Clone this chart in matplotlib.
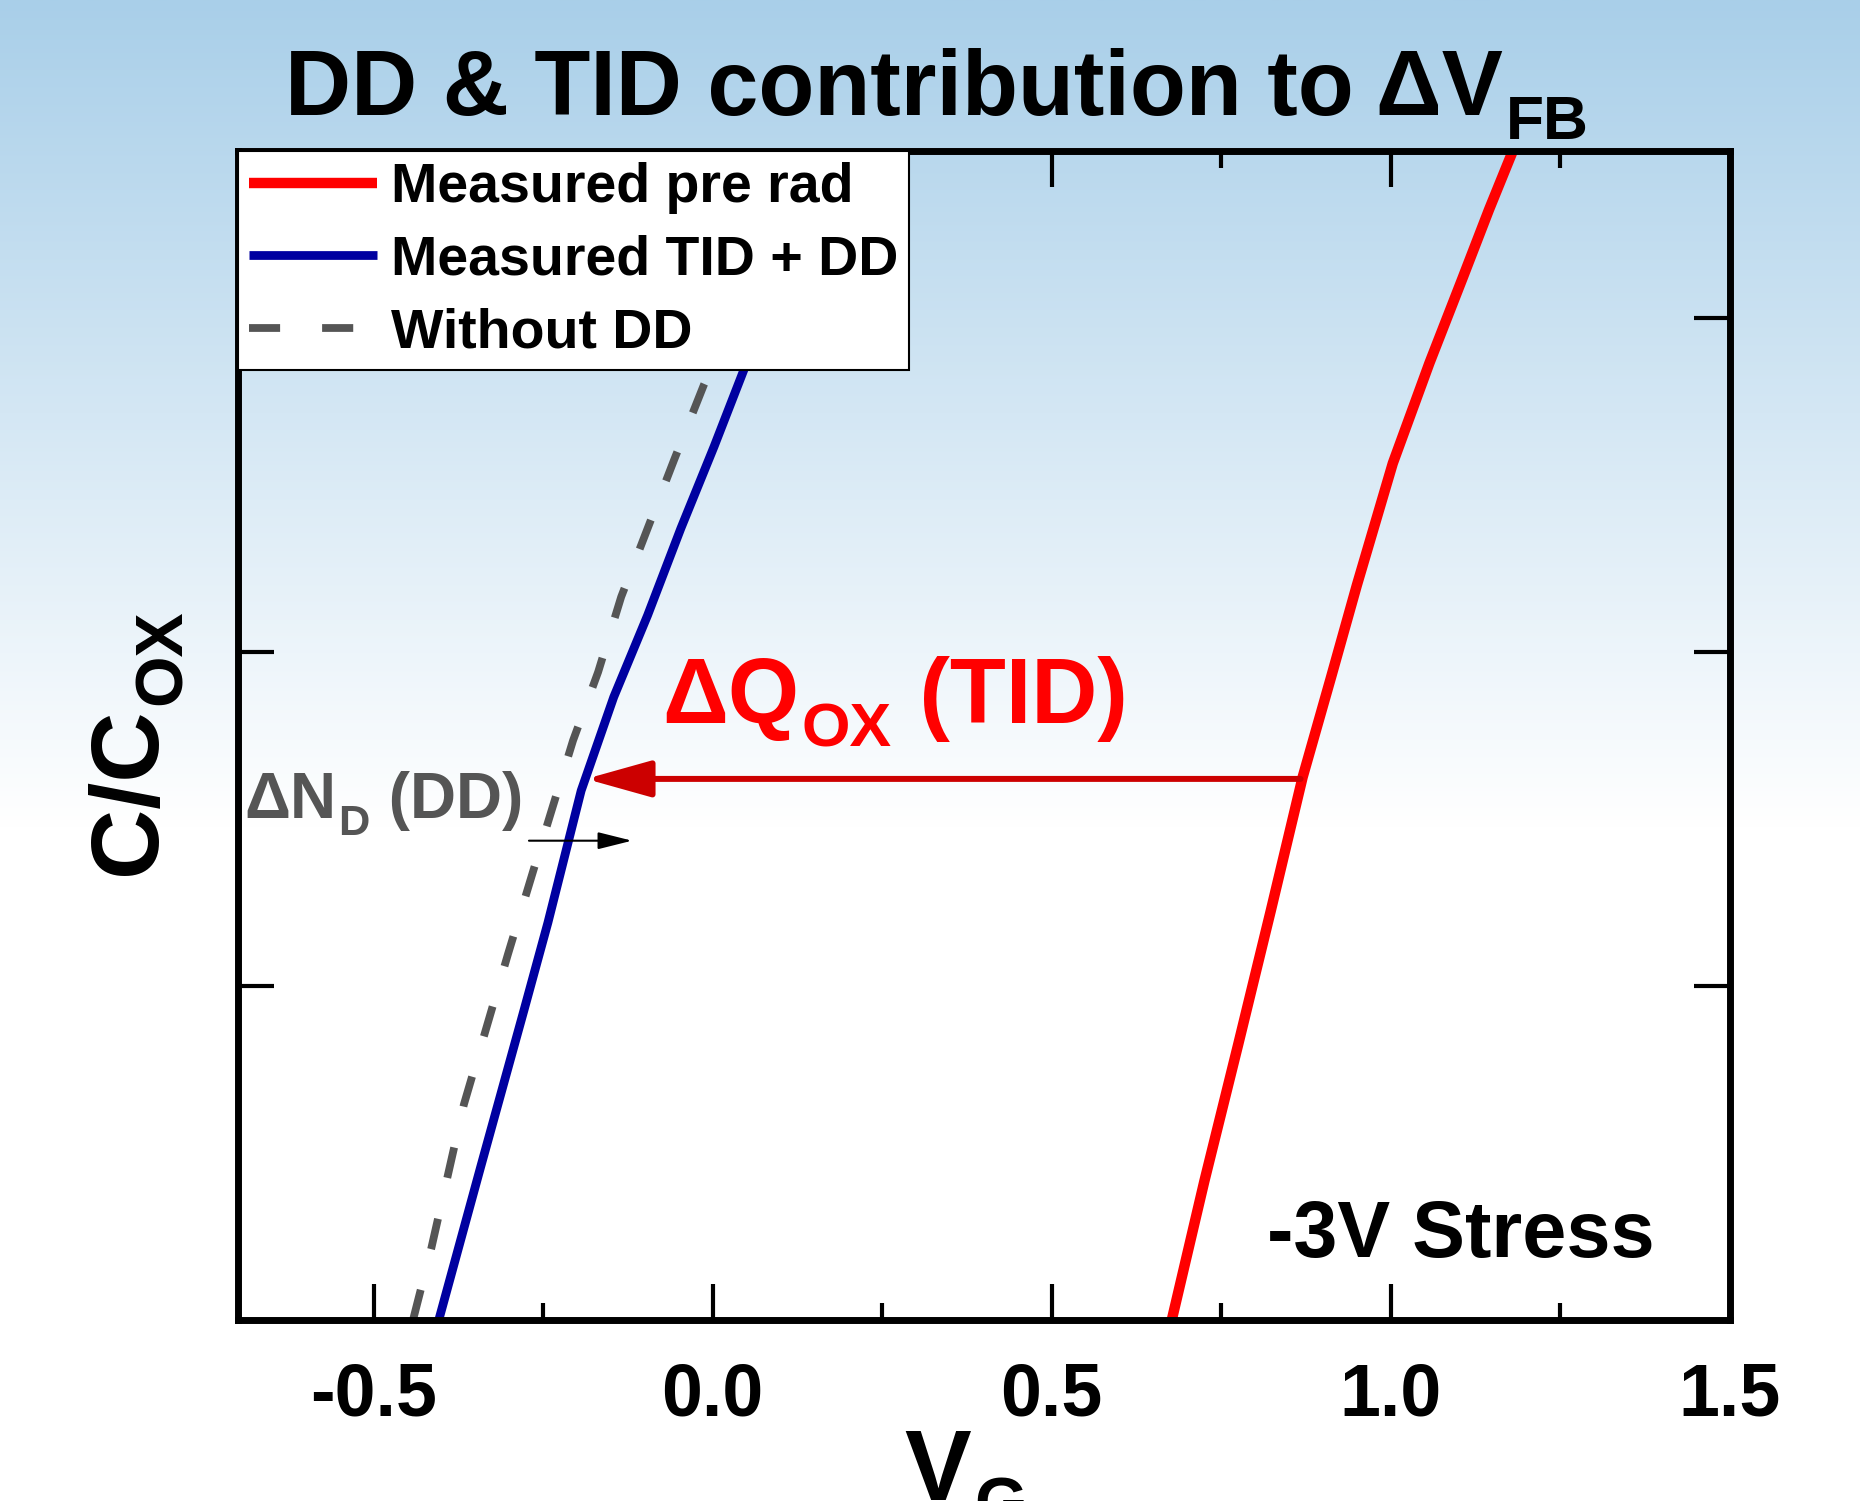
import numpy as np
import matplotlib
matplotlib.use("Agg")
import matplotlib.pyplot as plt
from matplotlib.transforms import IdentityTransform

plt.rcParams['font.family'] = ['Liberation Sans', 'DejaVu Sans']
plt.rcParams['font.weight'] = 'bold'
plt.rcParams['axes.unicode_minus'] = False

# C-V curves (V_G, C/Cox)
vg_pre = [0.677, 0.725, 0.775, 0.823, 0.870, 0.912, 0.950, 1.003, 1.057, 1.106, 1.145, 1.180]
c_pre = [0.0, 0.083, 0.165, 0.245, 0.325, 0.385, 0.440, 0.513, 0.573, 0.624, 0.665, 0.700]

vg_tid_dd = [-0.404, -0.342, -0.278, -0.243, -0.194, -0.146, -0.096, -0.047, 0.002, 0.046, 0.10, 0.16, 0.21]
c_tid_dd = [0.0, 0.092, 0.186, 0.238, 0.317, 0.373, 0.422, 0.474, 0.523, 0.569, 0.620, 0.670, 0.700]

vg_no_dd = [-0.442, -0.415, -0.367, -0.302, -0.243, -0.206, -0.169, -0.135, -0.096, -0.057, -0.013, 0.03, 0.09, 0.15]
c_no_dd = [0.0, 0.043, 0.129, 0.219, 0.298, 0.347, 0.388, 0.433, 0.474, 0.515, 0.560, 0.600, 0.650, 0.700]

# arrows
tid_arrow_y = 0.324
tid_arrow_x = [0.867, -0.187]
dd_arrow_y = 0.287
dd_arrow_x = [-0.271, -0.119]

xticks = [-0.5, 0.0, 0.5, 1.0, 1.5]
xtick_labels = ['-0.5', '0.0', '0.5', '1.0', '1.5']

fig = plt.figure(figsize=(18.6, 15.01), dpi=100)
renderer = fig.canvas.get_renderer()


def rich_text(x, y, parts, size, color='black', rotation=0, transform=None):
    # text with real lowered subscripts, parts = [(string, is_sub), ...]
    if transform is None:
        transform = fig.transFigure
    px, py = transform.transform((x, y))
    pos = 0.0
    for s, is_sub in parts:
        fs = size * 0.68 if is_sub else size
        drop = 0.26 * size * fig.dpi / 72 if is_sub else 0.0
        if rotation == 0:
            tx, ty = px + pos, py - drop
        else:
            tx, ty = px + drop, py + pos
        t = fig.text(tx, ty, s, transform=IdentityTransform(), fontsize=fs, fontweight='bold',
                     color=color, rotation=rotation, rotation_mode='anchor',
                     ha='left', va='baseline')
        bb = t.get_window_extent(renderer)
        pos += bb.width if rotation == 0 else bb.height
        pos += 0.03 * fs * fig.dpi / 72


# light blue to white background
bg = fig.add_axes([0, 0, 1, 1], zorder=-10)
t = np.linspace(0, 1, 600)
fade = np.clip(t / 0.55, 0, 1)
top = np.array([169, 207, 233]) / 255.0
grad = top[None, :] * (1 - fade[:, None]) + fade[:, None]
bg.imshow(grad[:, None, :], aspect='auto', extent=[0, 1, 0, 1], origin='upper')
bg.axis('off')

ax = fig.add_axes([0.128, 0.1206, 0.802, 0.7788])
ax.set_facecolor('none')

ax.plot(vg_pre, c_pre, color='#ff0000', lw=7.5, label='Measured pre rad', solid_capstyle='butt')
ax.plot(vg_tid_dd, c_tid_dd, color='#0000a0', lw=6.3, label='Measured TID + DD', solid_capstyle='butt')
ax.plot(vg_no_dd, c_no_dd, color='#555555', lw=5.6, ls=(0, (4, 5.4)), label='Without DD',
        dash_capstyle='butt')

ax.annotate('', xy=(tid_arrow_x[1], tid_arrow_y), xytext=(tid_arrow_x[0], tid_arrow_y),
            arrowprops=dict(arrowstyle='-|>,head_length=1.0,head_width=0.28', color='#cc0000',
                            lw=4.3, mutation_scale=40, shrinkA=0, shrinkB=0), zorder=4)
ax.annotate('', xy=(dd_arrow_x[1], dd_arrow_y), xytext=(dd_arrow_x[0], dd_arrow_y),
            arrowprops=dict(arrowstyle='-|>,head_length=1.0,head_width=0.25', color='black',
                            lw=1.5, mutation_scale=21, shrinkA=0, shrinkB=0), zorder=4)

ax.set_xlim(-0.7, 1.5)
ax.set_ylim(0, 0.70)
ax.set_xticks(xticks)
ax.set_xticklabels(xtick_labels)
ax.set_xticks([-0.25, 0.25, 0.75, 1.25], minor=True)
ax.set_yticks([0.2, 0.4, 0.6])
ax.tick_params(which='major', direction='in', length=26, width=3, top=True, right=True,
               labelleft=False, labelsize=53, pad=30)
ax.tick_params(which='minor', direction='in', length=12, width=3, top=True, right=False, left=False)
for lab in ax.get_xticklabels():
    lab.set_fontweight('bold')
for sp in ax.spines.values():
    sp.set_linewidth(5)

leg = ax.legend(loc='upper left', bbox_to_anchor=(0, 1), borderaxespad=0, fancybox=False,
                framealpha=1, edgecolor='black', prop={'weight': 'bold', 'size': 40},
                handlelength=2.3, handletextpad=0.25, labelspacing=0.37, borderpad=0.2)
leg.get_frame().set_linewidth(1.5)

# annotations inside the plot
rich_text(-0.075, 0.3575, [('ΔQ', False), ('OX', True), (' (TID)', False)], 66,
          color='#ff0000', transform=ax.transData)
rich_text(-0.691, 0.3006, [('ΔN', False), ('D', True), (' (DD)', False)], 46,
          color='#555555', transform=ax.transData)
ax.text(1.389, 0.0377, '-3V Stress', color='black', fontsize=57,
        fontweight='bold', ha='right', va='baseline')

# title and axis labels
rich_text(285 / 1860, 1 - 115 / 1501, [('DD & TID contribution to ΔV', False), ('FB', True)], 66)
rich_text(904 / 1860, 1 - 1500 / 1501, [('V', False), ('G', True)], 72)
rich_text(155 / 1860, 1 - 875 / 1501, [('C/C', False), ('OX', True)], 70, rotation=90)

fig.savefig('out.png', dpi=100)
